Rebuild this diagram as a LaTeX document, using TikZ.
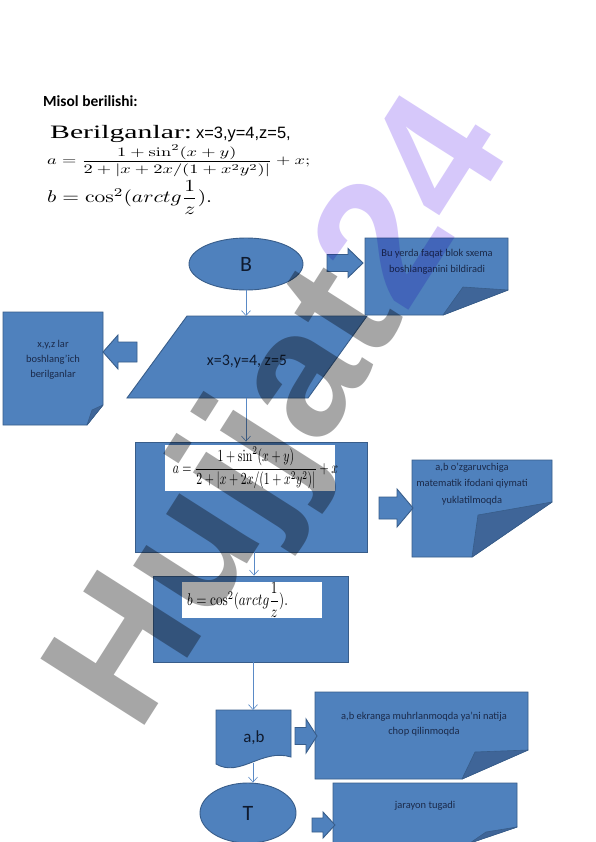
\documentclass[tikz,border=0pt]{standalone}
\usepackage{amsmath}
\usepackage[no-math]{fontspec}
\usepackage{graphicx}
\setmainfont{Carlito}
\newfontfamily\serifold{Liberation Serif}
\newfontfamily\arialf{Liberation Sans}
\newfontfamily\wmfont{Liberation Sans}
\usetikzlibrary{shapes.geometric,arrows.meta}
\definecolor{fillblue}{HTML}{4F81BD}
\definecolor{edgeblue}{HTML}{385D8A}
\definecolor{foldblue}{HTML}{3F6598}
\definecolor{notecol}{HTML}{1B2A4A}
\definecolor{maincol}{HTML}{0F1A2E}
\definecolor{linkblue}{HTML}{5A8AC6}
\definecolor{wmgray}{HTML}{A6A6A6}
\definecolor{wmpurple}{HTML}{D6C8FA}
\tikzset{
  shapebox/.style={fill=fillblue,draw=edgeblue,line width=0.9bp},
  foldshape/.style={fill=foldblue,draw=edgeblue,line width=0.6bp,line join=round},
  blockarrow/.style={fill=fillblue,draw=edgeblue,line width=0.9bp,line join=miter},
  link/.style={draw=linkblue,line width=0.6bp,-{Straight Barb[length=5bp,width=9bp]}},
  notelabel/.style={text=notecol,align=center,font=\fontsize{10.5}{16.5}\selectfont,inner sep=0},
  mainlabel/.style={text=maincol,inner sep=0},
  formbox/.style={fill=white,inner sep=0,draw=none},
}
% folded note: x1,y1,x2,y2, cut-bottom x, cut-right y, inner x, inner y
\newcommand\foldnote[8]{%
  \path[shapebox] (#1,#2) -- (#3,#2) -- (#3,#6) -- (#5,#4) -- (#1,#4) -- cycle;
  \path[foldshape] (#5,#4) -- (#7,#8) -- (#3,#6) -- cycle;}
% block arrow: tail x, tip x, centre y, half head, half shaft, head base x
\newcommand\blockarrowdraw[6]{%
  \path[blockarrow] (#1,#3-#5) -- (#6,#3-#5) -- (#6,#3-#4) -- (#2,#3) -- (#6,#3+#4) -- (#6,#3+#5) -- (#1,#3+#5) -- cycle;}
\begin{document}
\begin{tikzpicture}[x=1bp,y=-1bp]
\useasboundingbox (0,0) rectangle (596,842);
\fill[white] (0,0) rectangle (596,842);

% header
\node[anchor=base west,inner sep=0,font=\bfseries\fontsize{15.5}{18}\selectfont] (title) at (43,106) {Misol berilishi:};
\node[anchor=base west,inner sep=0] (given) at (50,138)
  {\scalebox{1.57}[1]{\serifold\fontsize{19}{19}\selectfont Berilganlar:}\hspace{4bp}{\arialf\fontsize{16.5}{16.5}\selectfont x=3,y=4,z=5,}};
\node[anchor=west,inner sep=0] (fa) at (47,161)
  {\resizebox*{263bp}{32bp}{$a=\dfrac{1+\sin^2(x+y)}{2+\left|x+2x/(1+x^2y^2)\right|}+x;$}};
\node[anchor=north west,inner sep=0] (fb) at (47,180)
  {\resizebox*{165bp}{34bp}{$b=\cos^2(arctg\dfrac{1}{z}).$}};

% notes
\foldnote{365}{238}{508}{315}{443}{290}{463}{287}
\node[notelabel] (n1) at (437,262) {Bu yerda faqat blok sxema\\boshlanganini bildiradi};
\foldnote{3}{312}{103}{425}{87}{405}{92}{410}
\node[notelabel,font=\fontsize{10.5}{15}\selectfont] (n2) at (53,360) {x,y,z lar\\boshlang'ich\\berilganlar};
\foldnote{412}{460}{552}{557}{472}{502}{478}{515}
\node[notelabel] (n3) at (472,484) {a,b o'zgaruvchiga\\matematik ifodani qiymati\\yuklatilmoqda};
\foldnote{315}{692}{528}{779}{462}{750}{475}{752}
\node[notelabel,font=\fontsize{10.5}{15}\selectfont] (n4) at (424,724) {a,b ekranga muhrlanmoqda ya'ni natija\\chop qilinmoqda};
\foldnote{333}{783}{517}{843}{470}{827}{486}{832}
\node[notelabel] (n5) at (425,806) {jarayon tugadi};

% block arrows
\blockarrowdraw{327}{363}{263}{14.5}{8.5}{348}
\blockarrowdraw{137}{103}{352}{17}{10}{118}
\blockarrowdraw{379}{413}{508}{19}{11}{397}
\blockarrowdraw{295}{317}{736}{17}{8.5}{306}
\blockarrowdraw{312}{335}{825}{13}{7}{323}

% flowchart shapes
\node[ellipse,shapebox,minimum width=114bp,minimum height=52bp,inner sep=0,text=maincol,font=\fontsize{22}{22}\selectfont] (B) at (246,264) {B};

\coordinate (partop) at (246,316);
\coordinate (parbot) at (246,398);
\path[shapebox] (187,316) -- (367,316) -- (308,398) -- (127,398) -- cycle;
\node[mainlabel,font=\fontsize{16}{16}\selectfont] (par) at (247,362) {x=3,y=4, z=5};

\node[rectangle,shapebox,minimum width=232bp,minimum height=110bp,inner sep=0] (r1) at (251,497) {};
\node[formbox,minimum width=170bp,minimum height=46bp] (fbox1) at (250,468) {};
\node[inner sep=0] (f1) at (255.5,468)
  {\resizebox*{165bp}{42bp}{$a=\dfrac{1+\sin^2(x+y)}{2+\left|x+2x/(1+x^2y^2)\right|}+x$}};

\node[rectangle,shapebox,minimum width=195bp,minimum height=86bp,inner sep=0] (r2) at (250.5,619) {};
\node[formbox,minimum width=140bp,minimum height=36bp] (fbox2) at (252,600) {};
\node[inner sep=0] (f2) at (237.5,600)
  {\resizebox*{101bp}{34bp}{$b=\cos^2(arctg\dfrac{1}{z}).$}};

\coordinate (doctop) at (253,710);
\coordinate (docbot) at (253,763);
\path[shapebox] (216,710) -- (291,710) -- (291,757) .. controls (262,748) and (240,778) .. (216,764) -- cycle;
\node[mainlabel,font=\fontsize{17}{17}\selectfont] (doc) at (254,738) {a,b};

\node[ellipse,shapebox,minimum width=96bp,minimum height=60bp,inner sep=0,text=maincol,font=\fontsize{22}{22}\selectfont] (T) at (248,813) {T};

% connectors
\draw[link] (B.south) -- (partop);
\draw[link] (parbot) -- (parbot |- r1.north);
\draw[link] ([xshift=3bp]r1.south) -- ([xshift=3bp]r1.south |- r2.north);
\draw[link] (doctop |- r2.south) -- (doctop);
\draw[link] (docbot) -- (docbot |- T.north);

% watermark
\begin{scope}[blend mode=multiply]
\node[anchor=base west,rotate=57.5,inner sep=0,font=\wmfont\bfseries\fontsize{180}{180}\selectfont] (wm) at (138,736)
  {\textcolor{wmgray}{Hujjat}\textcolor{wmpurple}{24}};
\end{scope}
\end{tikzpicture}
\end{document}
